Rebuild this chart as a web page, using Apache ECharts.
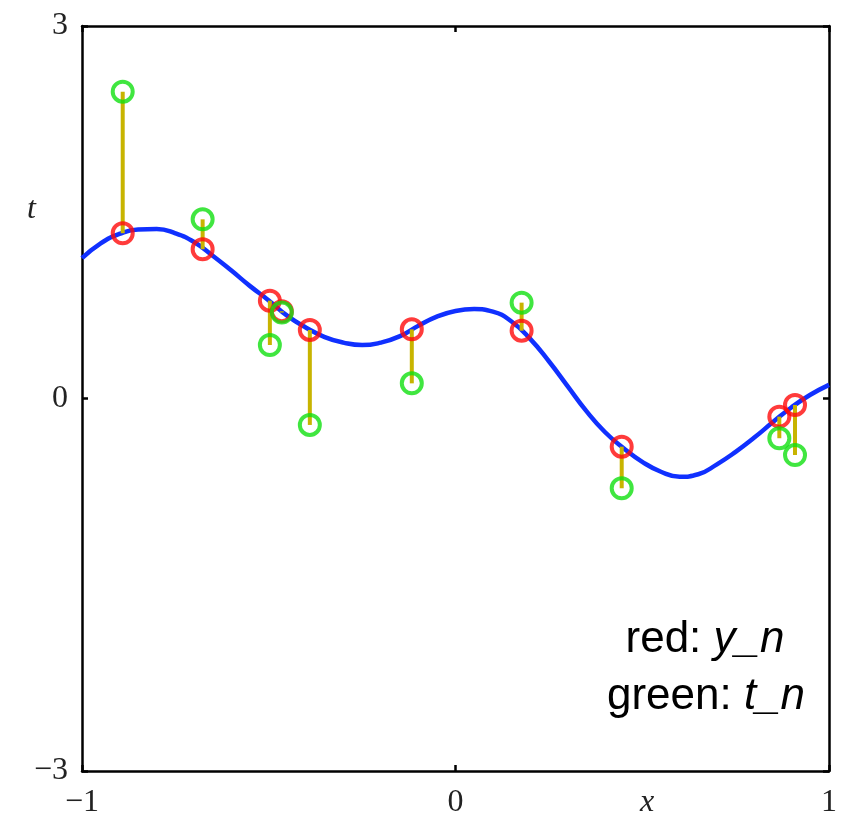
<!DOCTYPE html>
<html>
<head>
<meta charset="utf-8">
<script src="https://cdn.jsdelivr.net/npm/echarts@6/dist/echarts.min.js"></script>
<style>
  html, body { margin: 0; padding: 0; background: #ffffff; }
  #chart { width: 848px; height: 822px; }
</style>
</head>
<body>
<div id="chart"></div>
<script>
// Fitted regression curve y(x)
const curveX = [-1, -0.95, -0.9, -0.85, -0.8, -0.75, -0.7, -0.65, -0.6, -0.55, -0.5,
  -0.45, -0.4, -0.35, -0.3, -0.25, -0.2, -0.15, -0.1, -0.05, 0,
  0.05, 0.1, 0.15, 0.2, 0.25, 0.3, 0.35, 0.4, 0.45, 0.5,
  0.55, 0.6, 0.65, 0.7, 0.75, 0.8, 0.85, 0.9, 0.95, 1];
const curveY = [1.13, 1.25, 1.325, 1.362, 1.365, 1.33, 1.26, 1.15, 1.03, 0.905, 0.79,
  0.665, 0.57, 0.495, 0.45, 0.43, 0.45, 0.50, 0.585, 0.66, 0.705,
  0.72, 0.70, 0.62, 0.48, 0.30, 0.10, -0.10, -0.27, -0.40, -0.51,
  -0.59, -0.63, -0.61, -0.53, -0.43, -0.315, -0.19, -0.07, 0.03, 0.11];

// Training inputs, predictions y_n and targets t_n
const sampleX = [-0.891, -0.677, -0.497, -0.465, -0.390, -0.117, 0.177, 0.445, 0.867, 0.909];
const predY   = [1.331, 1.202, 0.788, 0.703, 0.552, 0.557, 0.546, -0.388, -0.146, -0.052];
const targetT = [2.471, 1.443, 0.431, 0.692, -0.213, 0.122, 0.772, -0.723, -0.320, -0.455];

const xTicks = [-1, 0, 1];
const yTicks = [-3, 0, 3];

const fmt = v => (v < 0 ? '\u2212' + (-v) : String(v));
const serif = '"Liberation Serif", "DejaVu Serif", serif';
const sans = '"Liberation Sans", Arial, sans-serif';

const frameLine = { show: true, onZero: false, lineStyle: { color: '#000', width: 2.5 } };
const innerTick = { show: true, inside: true, length: 6, lineStyle: { color: '#000', width: 2.5 } };

function xAxisDef(position, showLabel) {
  return {
    type: 'value', position: position,
    min: xTicks[0], max: xTicks[xTicks.length - 1], interval: xTicks[1] - xTicks[0],
    axisLine: frameLine, axisTick: innerTick, splitLine: { show: false },
    axisLabel: { show: showLabel, formatter: fmt, margin: 16, color: '#222',
      fontFamily: serif, fontSize: 32 }
  };
}
function yAxisDef(position, showLabel) {
  return {
    type: 'value', position: position,
    min: yTicks[0], max: yTicks[yTicks.length - 1], interval: yTicks[1] - yTicks[0],
    axisLine: frameLine, axisTick: innerTick, splitLine: { show: false },
    axisLabel: { show: showLabel, formatter: fmt, margin: 14, color: '#222',
      fontFamily: serif, fontSize: 32 }
  };
}

const chart = echarts.init(document.getElementById('chart'), null, { renderer: 'canvas' });
chart.setOption({
  animation: false,
  backgroundColor: '#ffffff',
  grid: { left: 82, right: 19, top: 26, bottom: 51, containLabel: false },
  xAxis: [xAxisDef('bottom', true), xAxisDef('top', false)],
  yAxis: [yAxisDef('left', true), yAxisDef('right', false)],
  series: [
    {
      type: 'line', z: 1,
      data: curveX.map((x, i) => [x, curveY[i]]),
      smooth: 0.5, showSymbol: false, symbol: 'none',
      lineStyle: { color: '#1030ff', width: 4.5 },
      silent: true
    },
    {
      type: 'custom', z: 2,
      data: sampleX.map((x, i) => [x, predY[i], targetT[i]]),
      encode: { x: 0, y: [1, 2] },
      renderItem: function (params, api) {
        const a = api.coord([api.value(0), api.value(1)]);
        const b = api.coord([api.value(0), api.value(2)]);
        return {
          type: 'line',
          shape: { x1: a[0], y1: a[1], x2: b[0], y2: b[1] },
          style: { stroke: '#c8b400', lineWidth: 4 }
        };
      },
      silent: true
    },
    {
      type: 'scatter', z: 3,
      data: sampleX.map((x, i) => [x, predY[i]]),
      symbol: 'circle', symbolSize: 20,
      itemStyle: { color: 'rgba(0,0,0,0)', borderColor: '#ff0a0a', borderWidth: 4 },
      silent: true
    },
    {
      type: 'scatter', z: 4,
      data: sampleX.map((x, i) => [x, targetT[i]]),
      symbol: 'circle', symbolSize: 20,
      itemStyle: { color: 'rgba(0,0,0,0)', borderColor: '#10e010', borderWidth: 4 },
      silent: true
    }
  ],
  graphic: [
    { type: 'text', left: 27, top: 194,
      style: { text: 't', font: 'italic 32px ' + serif, fill: '#222' } },
    { type: 'text', left: 640, top: 787,
      style: { text: 'x', font: 'italic 32px ' + serif, fill: '#222' } },
    { type: 'text', x: 705, y: 640,
      style: {
        text: '{n|red: }{i|y_n}', align: 'center', verticalAlign: 'middle',
        rich: {
          n: { fontFamily: sans, fontSize: 44, fill: '#000' },
          i: { fontFamily: sans, fontSize: 44, fontStyle: 'italic', fill: '#000' }
        }
      } },
    { type: 'text', x: 706, y: 697,
      style: {
        text: '{n|green: }{i|t_n}', align: 'center', verticalAlign: 'middle',
        rich: {
          n: { fontFamily: sans, fontSize: 44, fill: '#000' },
          i: { fontFamily: sans, fontSize: 44, fontStyle: 'italic', fill: '#000' }
        }
      } }
  ]
});
</script>
</body>
</html>
